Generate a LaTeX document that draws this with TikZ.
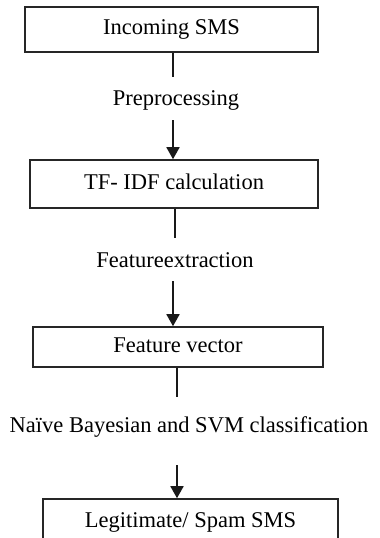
\documentclass[tikz,border=0pt]{standalone}
\usepackage{fontspec}
\setmainfont{Liberation Serif}
\usetikzlibrary{arrows.meta}
\begin{document}
\begin{tikzpicture}[x=1pt,y=-1pt,
  stepbox/.style={draw=black!85, line width=1.6pt, minimum width=#1, inner sep=0pt, text height=15pt, text depth=5pt},
  lbl/.style={inner sep=0pt, text height=15pt, text depth=5pt},
  conn/.style={line width=1.8pt, black!90},
  arr/.style={conn, -{Triangle[width=13pt,length=12pt]}},
  every node/.style={font=\fontsize{22.5}{27}\selectfont}]
\useasboundingbox (0,0) rectangle (380,538);
\clip (0,0) rectangle (380,538);
\node[stepbox=293pt, minimum height=45pt] (b1) at (171.5,29.5) {Incoming SMS};
\node[stepbox=288pt, minimum height=48pt] (b2) at (174,184) {TF- IDF calculation};
\node[stepbox=290pt, minimum height=40pt] (b3) at (178,347) {Feature vector};
\node[stepbox=295pt, minimum height=46pt] (b4) at (190.5,522) {Legitimate/ Spam SMS};
\node[lbl] (l1) at (176,100) {Preprocessing};
\node[lbl] (l2) at (175,262) {Featureextraction};
\node[lbl] (l3) at (189,427) {Na\"ive Bayesian and SVM classification};
\coordinate (c1a) at (173,77);
\coordinate (c1b) at (173,120);
\coordinate (c2a) at (175,238);
\coordinate (c2b) at (173,281);
\coordinate (c3a) at (177,397);
\coordinate (c3b) at (177,465);
\draw[conn] (c1a |- b1.south) -- (c1a);
\draw[arr] (c1b) -- (c1b |- b2.north);
\draw[conn] (c2a |- b2.south) -- (c2a);
\draw[arr] (c2b) -- (c2b |- b3.north);
\draw[conn] (c3a |- b3.south) -- (c3a);
\draw[arr] (c3b) -- (c3b |- b4.north);
\end{tikzpicture}
\end{document}
